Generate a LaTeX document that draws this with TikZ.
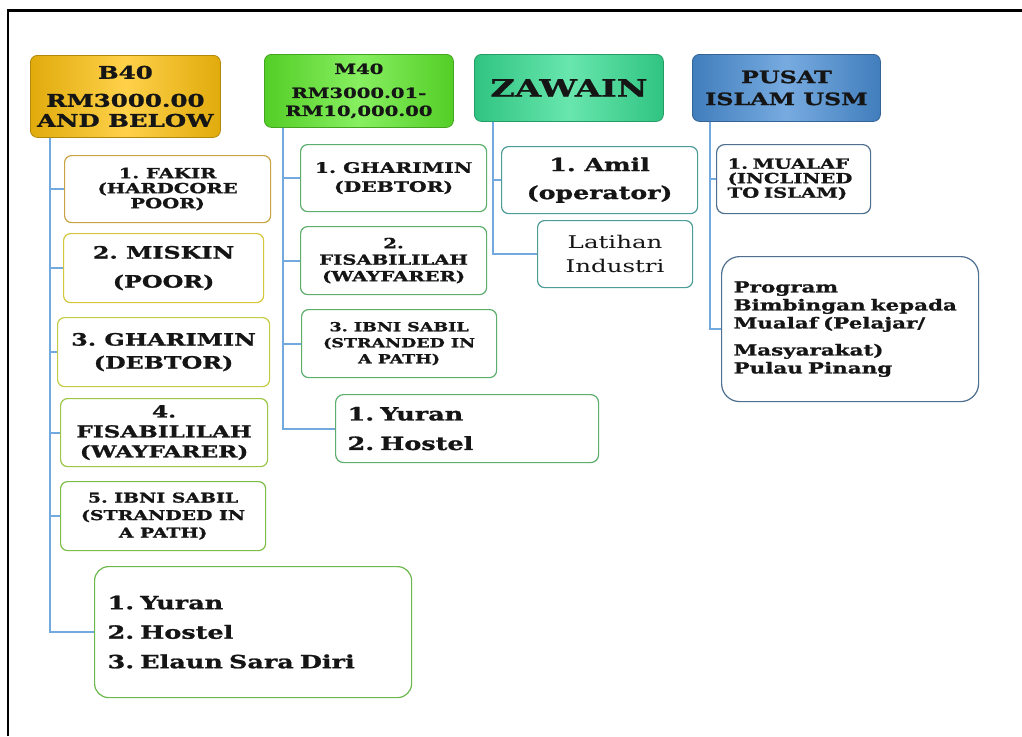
\documentclass[tikz,border=0pt]{standalone}
\usepackage{fontspec}
\newfontfamily\slab[FakeStretch=1.4, BoldFeatures={FakeBold=1.2}]{DejaVu Serif}
\newcommand{\myfs}[2]{\slab\bfseries\frenchspacing\fontsize{#1}{#2}\selectfont}
\newcommand{\myrs}[2]{\slab\frenchspacing\fontsize{#1}{#2}\selectfont}
\definecolor{goldc}{HTML}{FFC20E}
\definecolor{limec}{HTML}{5FEA2C}
\definecolor{tealc}{HTML}{36DE92}
\definecolor{bluec}{HTML}{4A8FD6}
\definecolor{connc}{HTML}{72AAE0}
\definecolor{txt}{HTML}{151515}
\definecolor{bA}{HTML}{C9A445}
\definecolor{bB}{HTML}{D6C63A}
\definecolor{bC}{HTML}{C3CC42}
\definecolor{bD}{HTML}{9CC646}
\definecolor{bE}{HTML}{7DBE48}
\definecolor{bF}{HTML}{6CB84C}
\definecolor{bM}{HTML}{5BAE6C}
\definecolor{bZ}{HTML}{4C9C98}
\definecolor{bP}{HTML}{4F6F8F}
\tikzset{
  hdr/.style={rounded corners=7pt, draw=#1!70!black, line width=0.8pt,
    left color=#1!88!black, right color=#1!88!black, middle color=#1!75!white,
    anchor=north west, align=center, inner sep=2pt, text=txt},
  cbox/.style={rounded corners=7pt, draw=#1, line width=1.2pt, fill=white,
    anchor=north west, align=center, inner sep=2pt, text=txt},
  lbox/.style n args={2}{rounded corners=#2, draw=#1, line width=1.2pt, fill=white,
    anchor=north west, align=left, inner ysep=2pt, text=txt},
  conn/.style={draw=connc, line width=2.2pt},
}
\begin{document}
\begin{tikzpicture}[x=1pt,y=-1pt]
\useasboundingbox (0,0) rectangle (1022,736);
\fill[white] (0,0) rectangle (1022,736);
\draw[line width=2.6pt] (8,736) -- (8,10.5) -- (1022,10.5);

% headers
\node[hdr=goldc, minimum width=190pt, minimum height=82pt, font=\myfs{17.5}{20}] (b40) at (30,55) {B40\\[8pt]RM3000.00\\AND BELOW};
\node[hdr=limec, minimum width=189pt, minimum height=73pt, font=\myfs{14}{18}] (m40) at (264,54) {M40\\[6pt]RM3000.01-\\RM10,000.00};
\node[hdr=tealc, minimum width=189pt, minimum height=67pt, font=\myfs{24}{26}] (zaw) at (474,54) {ZAWAIN};
\node[hdr=bluec, minimum width=188pt, minimum height=67pt, font=\myfs{17}{22}] (pusat) at (692,54) {PUSAT\\ISLAM USM};

% B40 children
\node[cbox=bA, minimum width=206pt, minimum height=67pt, font=\myfs{14}{15}] (fakir) at (64,155) {1. FAKIR\\(HARDCORE\\POOR)};
\node[cbox=bB, minimum width=200pt, minimum height=69pt, font=\myfs{17}{29}] (miskin) at (63,233) {2. MISKIN\\(POOR)};
\node[cbox=bC, minimum width=212pt, minimum height=69pt, font=\myfs{17}{23}] (gharB) at (57,317) {3. GHARIMIN\\(DEBTOR)};
\node[cbox=bD, minimum width=207pt, minimum height=68pt, font=\myfs{16.5}{20}] (fisB) at (60,398) {4.\\FISABILILAH\\(WAYFARER)};
\node[cbox=bE, minimum width=205pt, minimum height=69pt, font=\myfs{13.5}{17.5}] (ibnB) at (60,481) {5. IBNI SABIL\\(STRANDED IN\\A PATH)};
\node[lbox={bF}{14pt}, text width=291pt, inner xsep=13pt, minimum height=131pt, font=\myfs{18.2}{29.5}] (yuranB) at (94,566) {1. Yuran\\2. Hostel\\3. Elaun Sara Diri};

% M40 children
\node[cbox=bM, minimum width=186pt, minimum height=67pt, font=\myfs{14.5}{19}] (gharM) at (300,144) {1. GHARIMIN\\(DEBTOR)};
\node[cbox=bM, minimum width=186pt, minimum height=68pt, font=\myfs{14}{16.5}] (fisM) at (300,226) {2.\\FISABILILAH\\(WAYFARER)};
\node[cbox=bM, minimum width=195pt, minimum height=68pt, font=\myfs{12.5}{16}] (ibnM) at (301,309) {3. IBNI SABIL\\(STRANDED IN\\A PATH)};
\node[lbox={bM}{8pt}, text width=239pt, inner xsep=12pt, minimum height=68pt, font=\myfs{18.2}{29.5}] (yuranM) at (335,394) {1. Yuran\\2. Hostel};

% ZAWAIN children
\node[cbox=bZ, minimum width=196pt, minimum height=67pt, font=\myfs{18}{28}] (amil) at (501,146) {1. Amil\\(operator)};
\node[cbox=bZ, minimum width=155pt, minimum height=67pt, font=\myrs{17.5}{24}] (latihan) at (537,220) {Latihan\\Industri};

% PUSAT children
\node[lbox={bP}{8pt}, text width=132pt, inner xsep=11pt, minimum height=69pt, font=\myfs{14}{14.5}] (mualaf) at (716,144) {1. MUALAF\\(INCLINED\\TO ISLAM)};
\node[lbox={bP}{18pt}, text width=233pt, inner xsep=12pt, minimum height=145pt, font=\myfs{15.3}{18}] (program) at (721,256) {Program\\Bimbingan kepada\\Mualaf (Pelajar/\\[9pt]Masyarakat)\\Pulau Pinang};

% connectors
\coordinate (sB) at ([xshift=20pt]b40.south west);
\coordinate (sM) at ([xshift=19pt]m40.south west);
\coordinate (sZ) at ([xshift=19pt]zaw.south west);
\coordinate (sP) at ([xshift=18pt]pusat.south west);
\foreach \c in {fakir,miskin,gharB,fisB,ibnB,yuranB} \draw[conn] (sB) |- (\c.west);
\foreach \c in {gharM,fisM,ibnM,yuranM} \draw[conn] (sM) |- (\c.west);
\foreach \c in {amil,latihan} \draw[conn] (sZ) |- (\c.west);
\foreach \c in {mualaf,program} \draw[conn] (sP) |- (\c.west);
\end{tikzpicture}
\end{document}
